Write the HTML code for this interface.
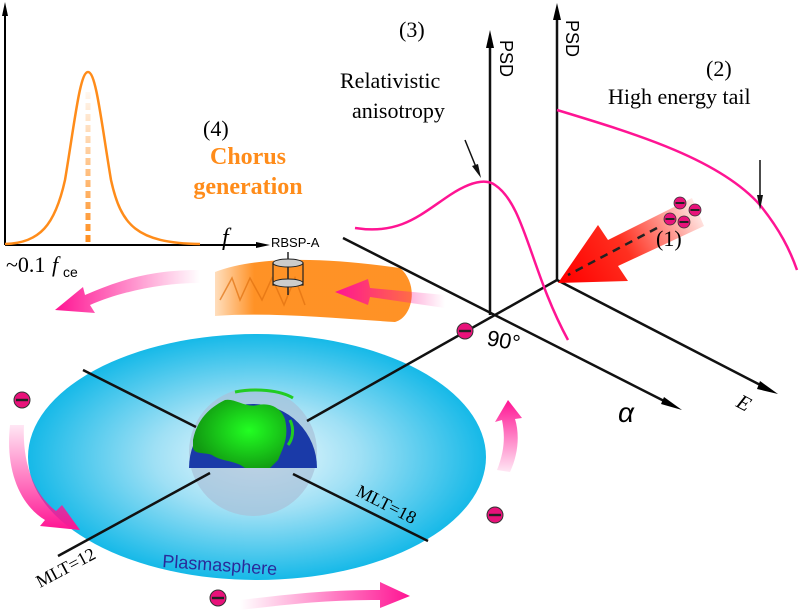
<!DOCTYPE html>
<html><head><meta charset="utf-8"><style>html,body{margin:0;padding:0;background:#fff}svg{display:block}</style></head>
<body>
<svg width="800" height="612" viewBox="0 0 800 612" xmlns="http://www.w3.org/2000/svg" font-family="Liberation Serif, serif">
<defs>
<radialGradient id="pl" cx="0.5" cy="0.5" r="0.5"><stop offset="0" stop-color="#f2fbff"/><stop offset="0.45" stop-color="#9fe0f5"/><stop offset="1" stop-color="#16b9e8"/></radialGradient>
<radialGradient id="ea" cx="0.6" cy="0.45" r="0.6"><stop offset="0" stop-color="#22ff22"/><stop offset="1" stop-color="#119911"/></radialGradient>
<linearGradient id="ra" gradientUnits="userSpaceOnUse" x1="700" y1="205" x2="565" y2="285"><stop offset="0" stop-color="#fff0ee"/><stop offset="0.55" stop-color="#ff3020"/><stop offset="1" stop-color="#ff0000"/></linearGradient>
<linearGradient id="pk1" x1="1" y1="0" x2="0" y2="0"><stop offset="0" stop-color="#ff1493" stop-opacity="0"/><stop offset="1" stop-color="#ff1493"/></linearGradient>
<linearGradient id="pk2" x1="0" y1="0" x2="1" y2="0"><stop offset="0" stop-color="#ff1493" stop-opacity="0"/><stop offset="1" stop-color="#ff1493"/></linearGradient>
<linearGradient id="pkv" x1="0" y1="0" x2="0" y2="1"><stop offset="0" stop-color="#ff1493" stop-opacity="0.1"/><stop offset="1" stop-color="#ff1493"/></linearGradient>
<linearGradient id="pkr" x1="0" y1="1" x2="0" y2="0"><stop offset="0" stop-color="#ff1493" stop-opacity="0.1"/><stop offset="1" stop-color="#ff1493"/></linearGradient>
<linearGradient id="od" gradientUnits="userSpaceOnUse" x1="0" y1="90" x2="0" y2="245"><stop offset="0" stop-color="#ff8c1a" stop-opacity="0.05"/><stop offset="1" stop-color="#ff8c1a"/></linearGradient>
<linearGradient id="ob" x1="0" y1="0" x2="1" y2="0"><stop offset="0" stop-color="#ff8c1a" stop-opacity="0.3"/><stop offset="0.2" stop-color="#ff8c1a"/><stop offset="1" stop-color="#ff8c1a"/></linearGradient>
<g id="el"><circle r="8" fill="#e8127a" stroke="#333" stroke-width="1"/><rect x="-6" y="-1.2" width="12" height="2.4" fill="#222"/></g>
<g id="els"><circle r="6" fill="#e8127a" stroke="#333" stroke-width="0.8"/><rect x="-4.5" y="-1" width="9" height="2" fill="#222"/></g>
</defs>

<!-- spectrum plot -->
<line x1="5" y1="245" x2="5" y2="8" stroke="#000" stroke-width="2"/>
<polygon points="5,2 2,16 8,16" fill="#000"/>
<line x1="5" y1="245" x2="262" y2="245" stroke="#000" stroke-width="2"/>
<polygon points="270,245 256,242 256,248" fill="#000"/>
<line x1="88" y1="92" x2="88" y2="245" stroke="url(#od)" stroke-width="5" stroke-dasharray="7,4"/>
<path d="M5,244 C40,243 55,225 65,180 C75,120 80,72 88,72 C96,72 101,120 111,180 C121,225 136,243 200,244" fill="none" stroke="#ff8c1a" stroke-width="2.5"/>
<text x="222" y="245" font-size="24" font-style="italic">f</text>
<text x="6" y="272" font-size="22">~0.1</text><text x="52" y="272" font-size="22" font-style="italic">f</text><text x="63" y="277" font-size="14" font-family="Liberation Sans, sans-serif">ce</text>

<text x="203" y="136" font-size="22">(4)</text>
<text x="248" y="164" font-size="24" font-weight="bold" fill="#ff8c1a" text-anchor="middle">Chorus</text>
<text x="248" y="194" font-size="24" font-weight="bold" fill="#ff8c1a" text-anchor="middle">generation</text>

<!-- plasmasphere -->
<ellipse cx="257" cy="457" rx="229" ry="123" fill="url(#pl)"/>
<text x="162" y="567" font-size="18" fill="#2a2a9a" font-family="Liberation Sans, sans-serif" transform="rotate(4 162 567)">Plasmasphere</text>

<!-- orange band -->
<path d="M215,272 C260,255 330,258 400,268 C420,285 412,318 395,322 C330,318 270,312 215,316 Z" fill="url(#ob)" opacity="0.95"/>
<path d="M220,300 L232,278 L240,300 L250,278 L262,300 L272,278 L284,305 L295,278 L305,305" fill="none" stroke="#e07010" stroke-width="1.5" opacity="0.7"/>
<!-- pink arrows -->
<path d="M445,295 L370,288 L368,279 L335,292 L368,305 L370,297 L445,308 Z" fill="url(#pk1)"/>
<path d="M200,270 C150,270 120,280 85,295 L83,287 L55,310 L95,313 L90,305 C120,292 160,283 200,283 Z" fill="url(#pk1)"/>
<path d="M10,425 C5,470 20,505 45,520 L40,526 L80,530 L62,505 L56,511 C35,495 22,465 24,425 Z" fill="url(#pkv)"/>
<path d="M240,600 C300,593 330,590 380,590 L380,582 L410,596 L380,608 L380,600 C330,600 300,603 240,610 Z" fill="url(#pk2)"/>
<path d="M497,470 C505,450 505,435 502,420 L495,422 L508,400 L522,418 L515,419 C520,435 518,455 510,472 Z" fill="url(#pkr)"/>

<!-- earth -->
<circle cx="253" cy="452" r="64" fill="#a8c0d8" opacity="0.7"/>
<path d="M189,468 A64,64 0 0 1 317,468 Z" fill="#1a3aa8"/>
<path d="M193,440 C198,415 215,405 225,400 C235,398 245,408 258,405 C272,402 285,410 286,425 C288,440 282,450 278,460 L270,468 L245,468 C235,460 222,462 212,455 C205,452 195,455 193,448 Z" fill="url(#ea)"/>
<path d="M235,392 C255,388 280,390 293,398" fill="none" stroke="#22cc22" stroke-width="3"/>
<path d="M290,420 C295,430 292,440 288,445" fill="none" stroke="#22cc22" stroke-width="3"/>

<!-- lines -->
<g stroke="#111" stroke-width="2.5" fill="none">
<line x1="83" y1="370" x2="196" y2="427"/>
<line x1="307" y1="421" x2="557" y2="280"/>
<line x1="210" y1="473" x2="58" y2="556"/>
<line x1="293" y1="474" x2="428" y2="541"/>
<line x1="343" y1="238" x2="672" y2="405"/>
<line x1="490" y1="315" x2="490" y2="40"/>
<line x1="557" y1="280" x2="557" y2="12"/>
<line x1="557" y1="280" x2="770" y2="390"/>
</g>
<polygon points="490,30 486,48 494,48" fill="#000"/>
<polygon points="557,3 553,20 561,20" fill="#000"/>
<polygon points="682,410 664,397 661,404" fill="#000"/>
<polygon points="778,394 760,381 757,389" fill="#000"/>
<text x="40" y="588" font-size="18" transform="rotate(-28 40 588)">MLT=12</text>
<text x="355" y="495" font-size="18" transform="rotate(27 355 495)">MLT=18</text>
<use href="#el" x="465" y="331"/>
<use href="#el" x="22" y="400"/>
<use href="#el" x="495" y="515"/>
<use href="#el" x="218" y="598"/>

<!-- RBSP -->
<text x="271" y="247" font-size="13" font-family="Liberation Sans, sans-serif">RBSP-A</text>
<line x1="288" y1="252" x2="288" y2="295" stroke="#222" stroke-width="1.5"/>
<rect x="273" y="263" width="30" height="22" fill="none" stroke="#222" stroke-width="1.2"/>
<ellipse cx="288" cy="263" rx="15" ry="4" fill="#ccc" stroke="#222"/>
<ellipse cx="288" cy="283" rx="15" ry="4" fill="#ccc" stroke="#222"/>

<!-- pink curves -->
<path d="M355,228 C400,235 420,215 450,195 C470,182 485,178 495,185 C525,205 530,270 568,340" fill="none" stroke="#ff1493" stroke-width="2.5"/>
<path d="M557,110 C640,135 720,160 760,205 C780,230 790,250 797,270" fill="none" stroke="#ff1493" stroke-width="2.5"/>
<!-- red arrow -->
<path d="M692,198 L608,240 L598,225 L558,283 L628,281 L618,266 L704,226 Z" fill="url(#ra)"/>
<line x1="657" y1="228" x2="568" y2="275" stroke="#222" stroke-width="2.5" stroke-dasharray="8,6"/>
<use href="#els" x="680" y="203"/><use href="#els" x="695" y="210"/><use href="#els" x="670" y="219"/><use href="#els" x="684" y="222"/>
<line x1="760" y1="160" x2="760" y2="205" stroke="#111" stroke-width="1.5"/>
<polygon points="760,210 757,195 763,195" fill="#111"/>
<line x1="465" y1="140" x2="478" y2="172" stroke="#111" stroke-width="1.5"/>
<polygon points="481,178 472,166 478,164" fill="#111"/>

<!-- labels -->
<text x="399" y="37" font-size="22">(3)</text>
<text x="340" y="88" font-size="22">Relativistic</text>
<text x="352" y="118" font-size="22">anisotropy</text>
<text x="706" y="76" font-size="22">(2)</text>
<text x="608" y="104" font-size="22">High energy tail</text>
<text x="656" y="246" font-size="22">(1)</text>
<text x="0" y="0" font-size="18" font-family="Liberation Sans, sans-serif" transform="translate(500,40) rotate(90)">PSD</text>
<text x="0" y="0" font-size="18" font-family="Liberation Sans, sans-serif" transform="translate(566,20) rotate(90)">PSD</text>
<text x="486" y="345" font-size="22" font-family="Liberation Sans, sans-serif" transform="rotate(10 486 345)">90°</text>
<text x="618" y="422" font-size="28" font-style="italic" font-family="Liberation Sans, sans-serif">α</text>
<text x="735" y="406" font-size="21" font-style="italic" transform="rotate(28 735 406)">E</text>
</svg>
</body></html>
